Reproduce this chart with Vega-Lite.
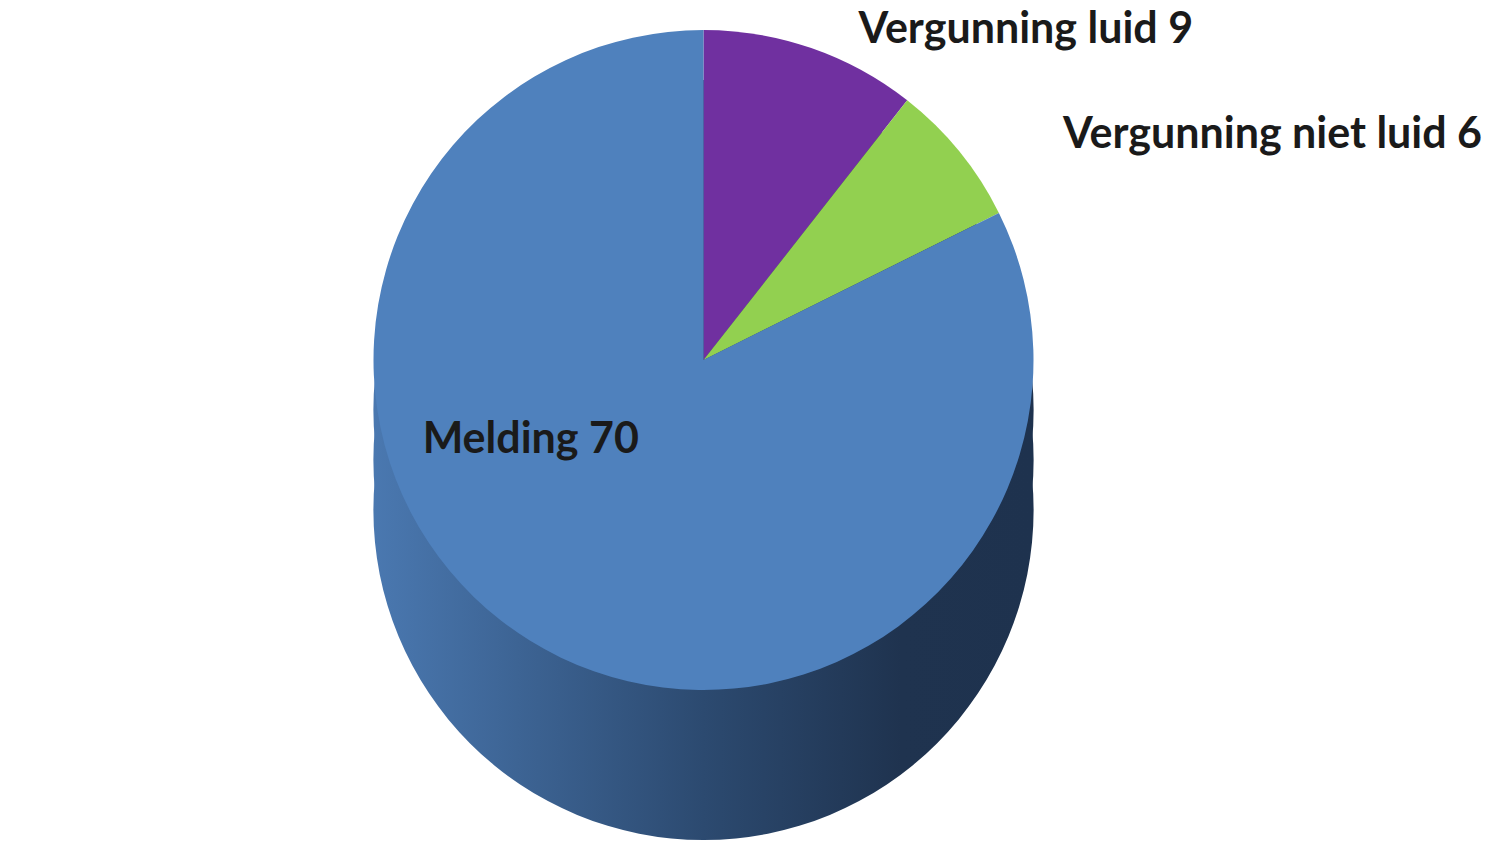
{
  "$schema": "https://vega.github.io/schema/vega-lite/v6.json",
  "width": 1507,
  "height": 844,
  "autosize": {"type": "fit", "contains": "padding"},
  "padding": 0,
  "background": "white",
  "config": {"view": {"stroke": null}},
  "datasets": {
    "slices": [
      {"categorie": "Vergunning luid", "aantal": 9, "volgorde": 1},
      {"categorie": "Vergunning niet luid", "aantal": 6, "volgorde": 2},
      {"categorie": "Melding", "aantal": 70, "volgorde": 3}
    ],
    "side": [{"deel": "zijkant"}]
  },
  "layer": [
    {
      "data": {"name": "side"},
      "mark": {"type": "arc", "radius": 330, "theta": 0, "theta2": 6.2832, "xOffset": -50, "yOffset": 88,
        "color": {"gradient": "linear", "x1": 0, "y1": 0, "x2": 1, "y2": 0,
          "stops": [{"offset": 0, "color": "#4a78b0"}, {"offset": 0.5, "color": "#2c4a70"}, {"offset": 0.8, "color": "#1f334f"}, {"offset": 1, "color": "#1e324e"}]}},
      "encoding": {}
    },
    {
      "data": {"name": "side"},
      "mark": {"type": "arc", "radius": 330, "theta": 0, "theta2": 6.2832, "xOffset": -50, "yOffset": 38,
        "color": {"gradient": "linear", "x1": 0, "y1": 0, "x2": 1, "y2": 0,
          "stops": [{"offset": 0, "color": "#4a78b0"}, {"offset": 0.5, "color": "#2c4a70"}, {"offset": 0.8, "color": "#1f334f"}, {"offset": 1, "color": "#1e324e"}]}},
      "encoding": {}
    },
    {
      "data": {"name": "side"},
      "mark": {"type": "arc", "radius": 330, "theta": 0, "theta2": 6.2832, "xOffset": -50, "yOffset": -12,
        "color": {"gradient": "linear", "x1": 0, "y1": 0, "x2": 1, "y2": 0,
          "stops": [{"offset": 0, "color": "#4a78b0"}, {"offset": 0.5, "color": "#2c4a70"}, {"offset": 0.8, "color": "#1f334f"}, {"offset": 1, "color": "#1e324e"}]}},
      "encoding": {}
    },
    {
      "data": {"name": "slices"},
      "mark": {"type": "arc", "radius": 330, "xOffset": -50, "yOffset": -62},
      "encoding": {
        "theta": {"field": "aantal", "type": "quantitative", "stack": true},
        "order": {"field": "volgorde", "type": "quantitative"},
        "color": {"field": "categorie", "type": "nominal",
          "scale": {"domain": ["Vergunning luid", "Vergunning niet luid", "Melding"], "range": ["#7030a0", "#92d050", "#4f81bd"]},
          "legend": null}
      }
    },
    {
      "data": {"name": "slices"},
      "transform": [
        {"calculate": "datum.categorie + ' ' + datum.aantal", "as": "label"}
      ],
      "mark": {"type": "text", "baseline": "middle",
        "radius": {"expr": "datum.categorie == 'Melding' ? 180 : 349"},
        "xOffset": {"expr": "datum.categorie == 'Melding' ? -128 : (datum.categorie == 'Vergunning luid' ? -9 : 39)"},
        "yOffset": {"expr": "datum.categorie == 'Melding' ? -135 : (datum.categorie == 'Vergunning luid' ? -62 : -67)"},
        "align": {"expr": "datum.categorie == 'Melding' ? 'center' : 'left'"},
        "font": "Lato", "fontWeight": "bold", "fontSize": 43, "color": "#1a1a1a"},
      "encoding": {
        "theta": {"field": "aantal", "type": "quantitative", "stack": true},
        "order": {"field": "volgorde", "type": "quantitative"},
        "text": {"field": "label"}
      }
    }
  ]
}
